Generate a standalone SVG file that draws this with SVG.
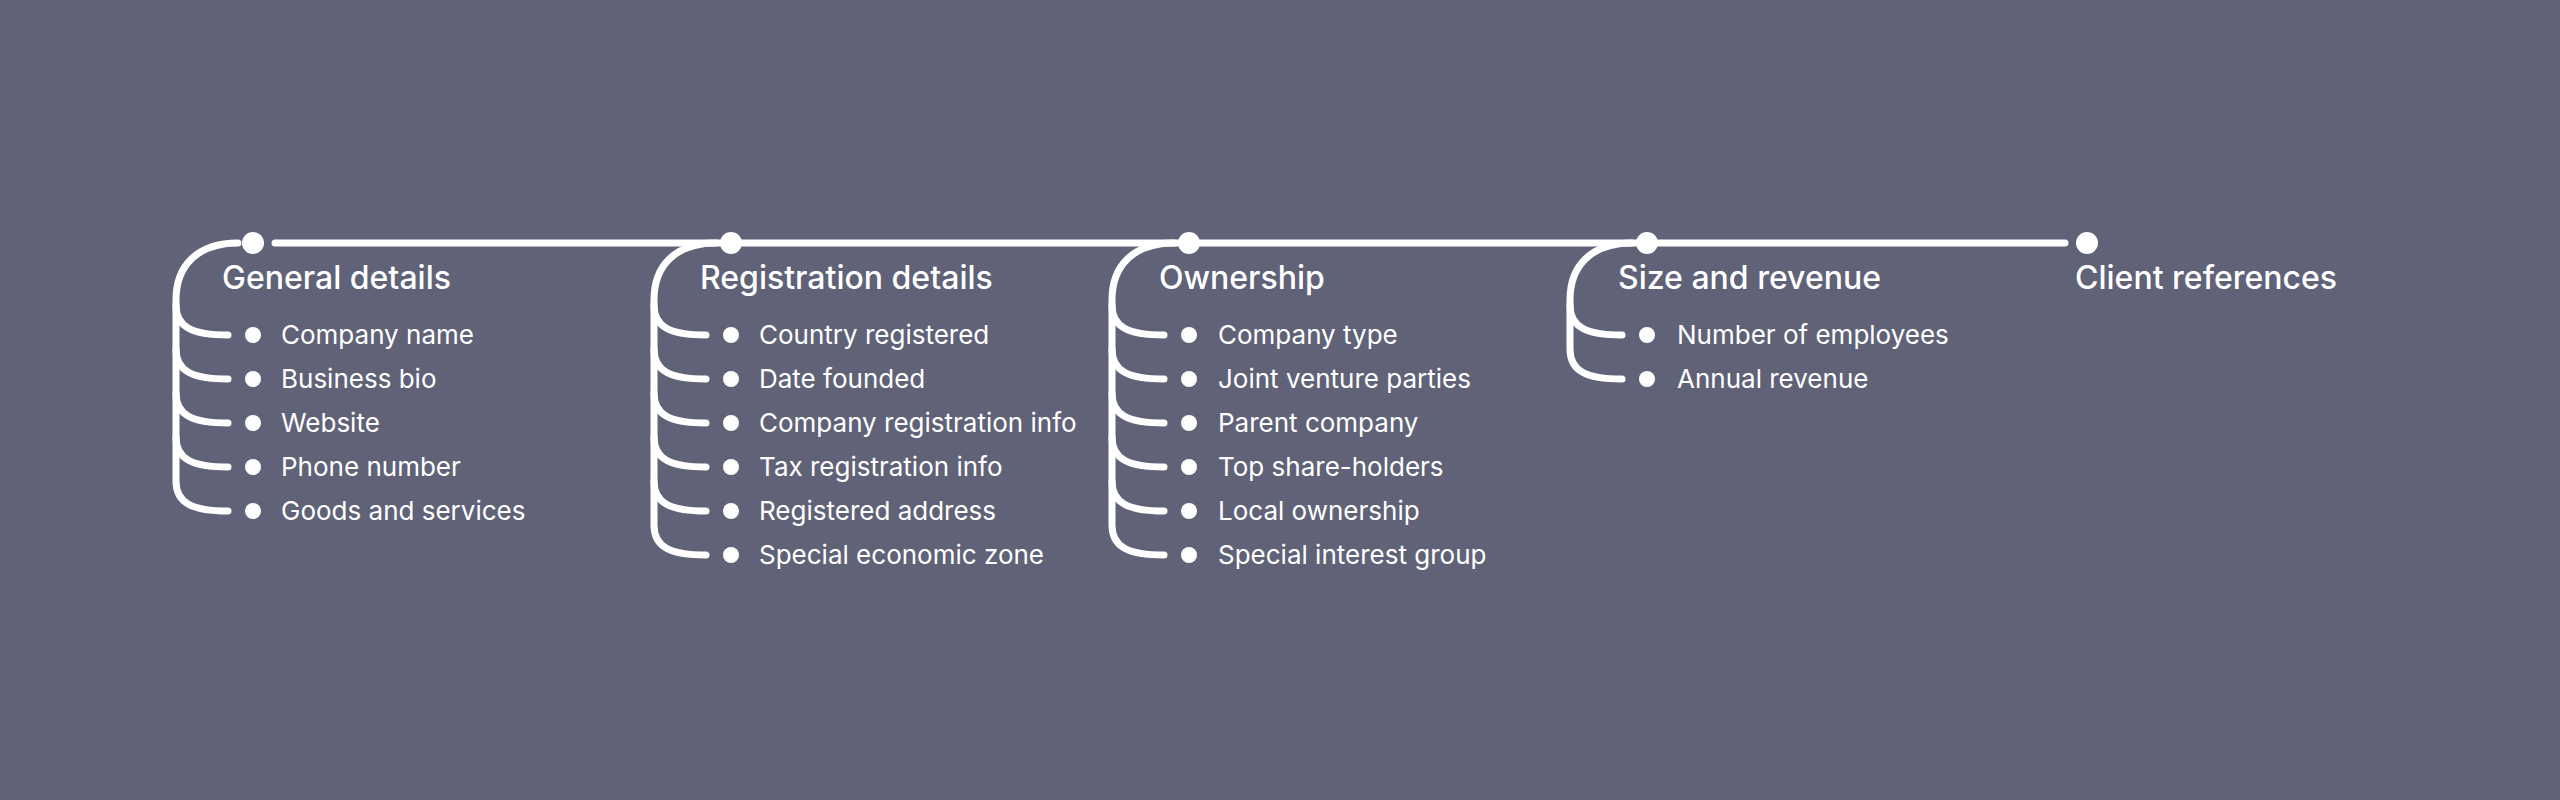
<svg xmlns="http://www.w3.org/2000/svg" width="2560" height="800" viewBox="0 0 2560 800">
<style>
.h{font-family:Inter,"Noto Sans",sans-serif;font-size:32px;font-weight:500;fill:#fff}
.t{font-family:Inter,"Noto Sans",sans-serif;font-size:26px;fill:#fff}
.l{fill:none;stroke:#fff;stroke-width:7;stroke-linecap:round}
.d{fill:#fff}
</style>
<defs>
<path id="br" class="l" d="M0,0"/>
</defs>
<rect width="2560" height="800" fill="#606378"/>
<g id="connectors">
<line class="l" x1="275" y1="243" x2="2065" y2="243"/>
<!-- col1 -->
<path class="l" d="M238,243 C198,243 176,265 176,300 V481 C176,503 192,511 228,511"/>
<path class="l" d="M176,305 C176,327 192,335 228,335 M176,349 C176,371 192,379 228,379 M176,393 C176,415 192,423 228,423 M176,437 C176,459 192,467 228,467"/>
<!-- col2 -->
<path class="l" d="M716,243 C676,243 654,265 654,300 V525 C654,547 670,555 706,555"/>
<path class="l" d="M654,305 C654,327 670,335 706,335 M654,349 C654,371 670,379 706,379 M654,393 C654,415 670,423 706,423 M654,437 C654,459 670,467 706,467 M654,481 C654,503 670,511 706,511"/>
<!-- col3 -->
<path class="l" d="M1174,243 C1134,243 1112,265 1112,300 V525 C1112,547 1128,555 1164,555"/>
<path class="l" d="M1112,305 C1112,327 1128,335 1164,335 M1112,349 C1112,371 1128,379 1164,379 M1112,393 C1112,415 1128,423 1164,423 M1112,437 C1112,459 1128,467 1164,467 M1112,481 C1112,503 1128,511 1164,511"/>
<!-- col4 -->
<path class="l" d="M1632,243 C1592,243 1570,265 1570,300 V349 C1570,371 1586,379 1622,379"/>
<path class="l" d="M1570,305 C1570,327 1586,335 1622,335"/>
</g>
<g id="general">
<circle class="d" cx="253" cy="243" r="11"/>
<text class="h" x="222" y="289">General details</text>
<circle class="d" cx="253" cy="335" r="8"/><text class="t" x="281" y="344">Company name</text>
<circle class="d" cx="253" cy="379" r="8"/><text class="t" x="281" y="388">Business bio</text>
<circle class="d" cx="253" cy="423" r="8"/><text class="t" x="281" y="432">Website</text>
<circle class="d" cx="253" cy="467" r="8"/><text class="t" x="281" y="476">Phone number</text>
<circle class="d" cx="253" cy="511" r="8"/><text class="t" x="281" y="520">Goods and services</text>
</g>
<g id="registration">
<circle class="d" cx="731" cy="243" r="11"/>
<text class="h" x="700" y="289">Registration details</text>
<circle class="d" cx="731" cy="335" r="8"/><text class="t" x="759" y="344">Country registered</text>
<circle class="d" cx="731" cy="379" r="8"/><text class="t" x="759" y="388">Date founded</text>
<circle class="d" cx="731" cy="423" r="8"/><text class="t" x="759" y="432">Company registration info</text>
<circle class="d" cx="731" cy="467" r="8"/><text class="t" x="759" y="476">Tax registration info</text>
<circle class="d" cx="731" cy="511" r="8"/><text class="t" x="759" y="520">Registered address</text>
<circle class="d" cx="731" cy="555" r="8"/><text class="t" x="759" y="564">Special economic zone</text>
</g>
<g id="ownership">
<circle class="d" cx="1189" cy="243" r="11"/>
<text class="h" x="1159" y="289">Ownership</text>
<circle class="d" cx="1189" cy="335" r="8"/><text class="t" x="1218" y="344">Company type</text>
<circle class="d" cx="1189" cy="379" r="8"/><text class="t" x="1218" y="388">Joint venture parties</text>
<circle class="d" cx="1189" cy="423" r="8"/><text class="t" x="1218" y="432">Parent company</text>
<circle class="d" cx="1189" cy="467" r="8"/><text class="t" x="1218" y="476">Top share-holders</text>
<circle class="d" cx="1189" cy="511" r="8"/><text class="t" x="1218" y="520">Local ownership</text>
<circle class="d" cx="1189" cy="555" r="8"/><text class="t" x="1218" y="564">Special interest group</text>
</g>
<g id="size">
<circle class="d" cx="1647" cy="243" r="11"/>
<text class="h" x="1618" y="289">Size and revenue</text>
<circle class="d" cx="1647" cy="335" r="8"/><text class="t" x="1677" y="344">Number of employees</text>
<circle class="d" cx="1647" cy="379" r="8"/><text class="t" x="1677" y="388">Annual revenue</text>
</g>
<g id="client">
<circle class="d" cx="2087" cy="243" r="11"/>
<text class="h" x="2075" y="289">Client references</text>
</g>
</svg>
